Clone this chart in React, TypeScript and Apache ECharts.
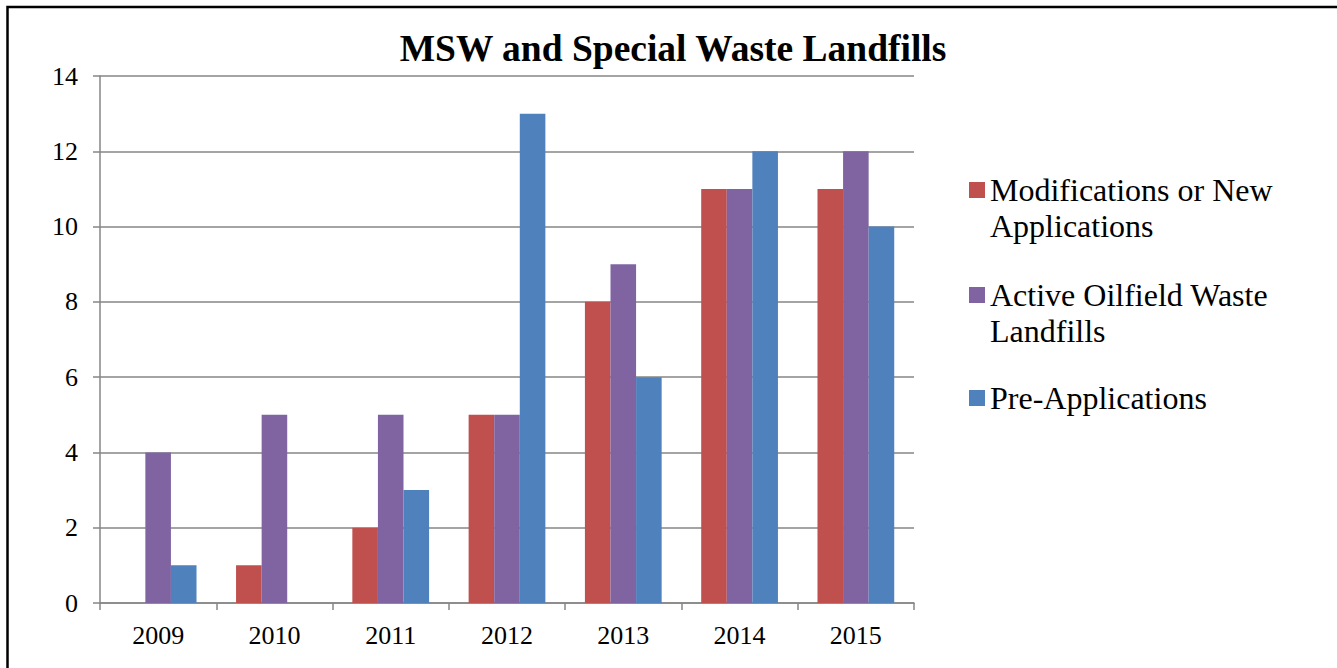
import React, { useEffect, useRef } from "react";
import * as echarts from "echarts";

const categories = ["2009", "2010", "2011", "2012", "2013", "2014", "2015"];
const modificationsOrNew = [0, 1, 2, 5, 8, 11, 11];
const activeOilfield = [4, 5, 5, 5, 9, 11, 12];
const preApplications = [1, 0, 3, 13, 6, 12, 10];
const seriesNames = [
  "Modifications or New Applications",
  "Active Oilfield Waste Landfills",
  "Pre-Applications",
];
const legendLabels = [
  "\nModifications or New\nApplications",
  "\nActive Oilfield Waste\nLandfills",
  "Pre-Applications",
];
const colors = ["#C0504D", "#8064A2", "#4F81BD"];

const FONT = "'Liberation Serif', 'Times New Roman', serif";

export default function App() {
  const ref = useRef<HTMLDivElement>(null);
  useEffect(() => {
    if (!ref.current) return;
    const chart = echarts.init(ref.current, null, { renderer: "svg" });
    const seriesData = [modificationsOrNew, activeOilfield, preApplications];
    const legendTops = [136, 241, 380];
    const labelMap: Record<string, string> = {};
    seriesNames.forEach((n, i) => (labelMap[n] = legendLabels[i]));
    chart.setOption({
      animation: false,
      backgroundColor: "#ffffff",
      title: {
        text: "MSW and Special Waste Landfills",
        left: 668,
        textAlign: "center",
        top: 24,
        textStyle: {
          fontFamily: FONT,
          fontSize: 37.5,
          fontWeight: "bold",
          color: "#000",
        },
      },
      grid: { left: 100, right: 423, top: 76, bottom: 65 },
      legend: seriesNames.map((n, i) => ({
        orient: "vertical",
        left: 969,
        top: legendTops[i],
        padding: 0,
        itemWidth: 16,
        itemHeight: 16,
        icon: "rect",
        formatter: (name: string) => labelMap[name] || name,
        data: [n],
        textStyle: {
          fontFamily: FONT,
          fontSize: 32,
          lineHeight: 36,
          color: "#000",
        },
      })),
      xAxis: {
        type: "category",
        data: categories,
        boundaryGap: true,
        axisLine: { lineStyle: { color: "#868686", width: 1.5 } },
        axisTick: {
          show: true,
          alignWithLabel: false,
          length: 7,
          lineStyle: { color: "#868686", width: 1.5 },
        },
        axisLabel: {
          fontFamily: FONT,
          fontSize: 26,
          color: "#000",
          margin: 19,
        },
        splitLine: { show: false },
      },
      yAxis: {
        type: "value",
        min: 0,
        max: 14,
        interval: 2,
        axisLine: { show: true, lineStyle: { color: "#868686", width: 1.5 } },
        axisTick: {
          show: true,
          length: 7,
          lineStyle: { color: "#868686", width: 1.5 },
        },
        axisLabel: {
          fontFamily: FONT,
          fontSize: 26,
          color: "#000",
          margin: 22,
        },
        splitLine: { show: true, lineStyle: { color: "#868686", width: 1.5 } },
      },
      series: seriesNames.map((n, i) => ({
        name: n,
        type: "bar",
        data: seriesData[i],
        barGap: "0%",
        barCategoryGap: "34%",
        itemStyle: {
          color: colors[i],
        },
      })),
      graphic: [
        {
          type: "rect",
          left: 5,
          top: 4.5,
          shape: { x: 0, y: 0, width: 1500, height: 900 },
          style: { fill: "none", stroke: "#000", lineWidth: 2.5 },
          silent: true,
          z: 100,
        },
      ],
    });
    return () => chart.dispose();
  }, []);
  return (
    <div
      ref={ref}
      style={{ position: "fixed", left: 0, top: 0, width: 1337, height: 668 }}
    />
  );
}
